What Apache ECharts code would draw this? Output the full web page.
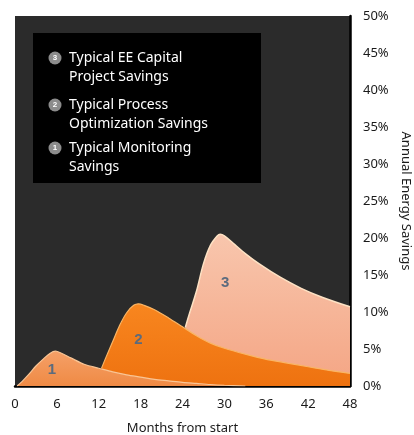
<!DOCTYPE html>
<html>
<head>
<meta charset="utf-8">
<title>Annual Energy Savings</title>
<script src="https://cdn.jsdelivr.net/npm/echarts@6/dist/echarts.min.js"></script>
<style>
  html, body {
    margin: 0;
    padding: 0;
    background: #fff;
  }
  #chart {
    width: 414px;
    height: 435px;
  }
</style>
</head>
<body>
<div id="chart"></div>
<script>
  var monthTicks = [0, 6, 12, 18, 24, 30, 36, 42, 48]
  var savingTicks = [0, 5, 10, 15, 20, 25, 30, 35, 40, 45, 50]

  var monitoringMonths = [0.3, 1, 2, 3, 4, 5, 5.8, 6.5, 8, 10, 12, 14, 16, 18, 20, 22, 24, 26, 28, 30, 33]
  var monitoringValues = [0, 0.6, 1.6, 2.7, 3.6, 4.4, 4.7, 4.5, 3.8, 2.9, 2.4, 1.9, 1.5, 1.2, 0.9, 0.7, 0.5, 0.35, 0.2, 0.1, 0]

  var processMonths = [12.4, 13, 14, 15, 16, 17, 17.7, 18.5, 20, 22, 24, 26, 28, 30, 33, 36, 39, 42, 45, 48]
  var processValues = [2.4, 3.8, 6.0, 8.2, 9.9, 10.9, 11.1, 10.9, 10.3, 9.2, 8.0, 6.8, 5.8, 5.1, 4.3, 3.6, 3.1, 2.6, 2.1, 1.7]

  var capitalMonths = [24.4, 25, 26, 27, 28, 29, 29.4, 30, 31.5, 33, 35, 38, 41, 44, 48]
  var capitalValues = [7.9, 9.8, 12.8, 16.5, 19.0, 20.3, 20.5, 20.3, 19.1, 17.9, 16.5, 14.7, 13.2, 12.0, 10.7]

  var legendItems = [
    { num: '3', text: 'Typical EE Capital\nProject Savings' },
    { num: '2', text: 'Typical Process\nOptimization Savings' },
    { num: '1', text: 'Typical Monitoring\nSavings' },
  ]

  function pairs(xs, ys) {
    return xs.map(function (x, i) {
      return [x, ys[i]]
    })
  }

  function gradient(top, bottom) {
    return new echarts.graphic.LinearGradient(0, 0, 0, 1, [
      { offset: 0, color: top },
      { offset: 1, color: bottom },
    ])
  }

  function areaLabel(text, month, value) {
    return {
      symbol: 'circle',
      symbolSize: 0,
      silent: true,
      label: {
        show: true,
        position: 'inside',
        formatter: text,
        color: '#5b6b7e',
        fontSize: 15,
        fontWeight: 'bold',
        fontFamily: 'Liberation Sans',
      },
      data: [{ coord: [month, value] }],
    }
  }

  var chart = echarts.init(document.getElementById('chart'))

  var legendGraphics = [
    {
      type: 'rect',
      shape: { x: 33, y: 33, width: 228, height: 150 },
      style: { fill: '#000' },
      z: 10,
    },
  ]
  var legendTops = [49, 96, 139]
  legendItems.forEach(function (item, i) {
    var top = legendTops[i]
    legendGraphics.push({
      type: 'circle',
      shape: { cx: 55, cy: top + 9, r: 6.5 },
      style: { fill: '#8c8c8c' },
      z: 11,
    })
    legendGraphics.push({
      type: 'text',
      x: 55,
      y: top + 9,
      style: {
        text: item.num,
        fill: '#fff',
        font: 'bold 8px "Liberation Sans"',
        align: 'center',
        verticalAlign: 'middle',
      },
      z: 12,
    })
    legendGraphics.push({
      type: 'text',
      x: 69,
      y: top,
      style: {
        text: item.text,
        fill: '#fff',
        font: '14px "Noto Sans"',
        lineHeight: 19,
        verticalAlign: 'top',
      },
      z: 12,
    })
  })

  chart.setOption({
    animation: false,
    backgroundColor: '#fff',
    textStyle: {
      fontFamily: 'Noto Sans',
    },
    grid: {
      left: 15,
      right: 64,
      top: 16,
      bottom: 49,
      containLabel: false,
      outerBoundsMode: 'none',
      show: true,
      backgroundColor: '#2b2b2b',
      borderWidth: 0,
    },
    xAxis: {
      type: 'value',
      min: monthTicks[0],
      max: monthTicks[monthTicks.length - 1],
      interval: 6,
      name: 'Months from start',
      nameLocation: 'middle',
      nameGap: 36,
      nameTextStyle: { color: '#1a1a1a', fontSize: 13 },
      axisLine: { show: true, onZero: false, lineStyle: { color: '#000', width: 2.5 } },
      axisTick: { show: false },
      splitLine: { show: false },
      axisLabel: { color: '#1a1a1a', fontSize: 13, margin: 12 },
    },
    yAxis: {
      type: 'value',
      position: 'right',
      min: savingTicks[0],
      max: savingTicks[savingTicks.length - 1],
      interval: 5,
      name: 'Annual Energy Savings',
      nameLocation: 'middle',
      nameRotate: -90,
      nameGap: 47,
      nameTextStyle: { color: '#1a1a1a', fontSize: 13 },
      axisLine: { show: true, onZero: false, lineStyle: { color: '#000', width: 2.5 } },
      axisTick: { show: false },
      splitLine: { show: false },
      axisLabel: { color: '#1a1a1a', fontSize: 13, margin: 13, formatter: '{value}%' },
    },
    graphic: legendGraphics,
    series: [
      {
        name: 'Typical EE Capital Project Savings',
        type: 'line',
        data: pairs(capitalMonths, capitalValues),
        smooth: 0.3,
        symbol: 'none',
        lineStyle: { color: '#fde2c4', width: 1.5 },
        areaStyle: { color: gradient('#f8c6ad', '#f4a584'), opacity: 1 },
        markPoint: areaLabel('3', 30.1, 13.9),
      },
      {
        name: 'Typical Process Optimization Savings',
        type: 'line',
        data: pairs(processMonths, processValues),
        smooth: 0.3,
        symbol: 'none',
        lineStyle: { color: '#f9b565', width: 1.2 },
        areaStyle: { color: gradient('#f8861f', '#ee7210'), opacity: 1 },
        markPoint: areaLabel('2', 17.7, 6.2),
      },
      {
        name: 'Typical Monitoring Savings',
        type: 'line',
        data: pairs(monitoringMonths, monitoringValues),
        smooth: 0.3,
        symbol: 'none',
        lineStyle: { color: '#f9c595', width: 1.2 },
        areaStyle: { color: gradient('#f5a068', '#ef8a44'), opacity: 1 },
        markPoint: areaLabel('1', 5.3, 2.2),
      },
    ],
  })
</script>
</body>
</html>
